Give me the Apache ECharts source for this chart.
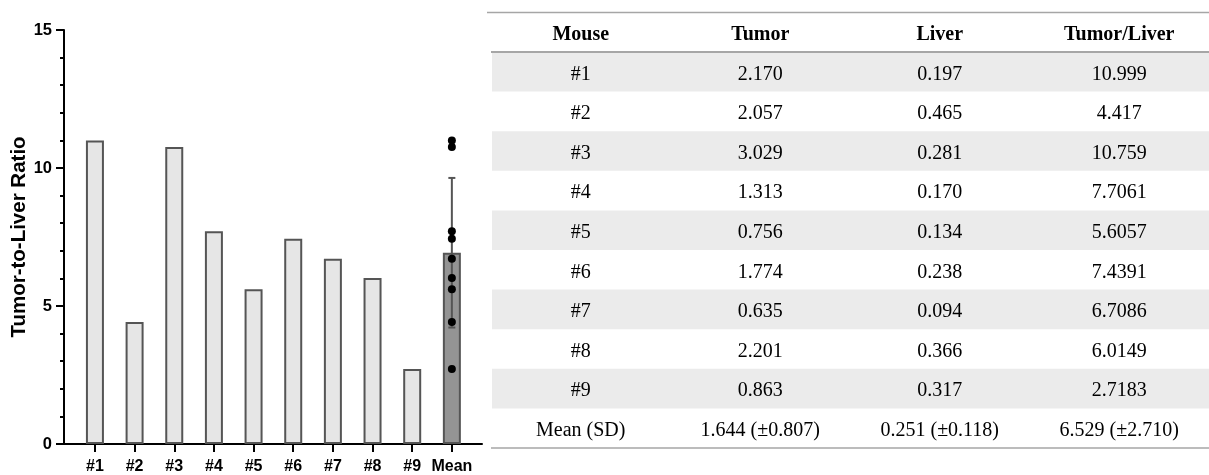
<!DOCTYPE html>
<html><head><meta charset="utf-8">
<script src="https://cdn.jsdelivr.net/npm/echarts@6/dist/echarts.min.js"></script>
<style>html,body{margin:0;padding:0;background:#fff}#c{width:1209px;height:475px}</style>
</head><body><div id="c"></div>
<script>
// ---- chart data ----
const categories = ['#1','#2','#3','#4','#5','#6','#7','#8','#9','Mean'];
const ratios = [10.999, 4.417, 10.759, 7.7061, 5.6057, 7.4391, 6.7086, 6.0149, 2.7183];
const meanBar = 6.93;
const sdBar = 2.71;
const yTicks = [0, 5, 10, 15];
// ---- table data ----
const tableHeader = ['Mouse', 'Tumor', 'Liver', 'Tumor/Liver'];
const tableMouse = ['#1','#2','#3','#4','#5','#6','#7','#8','#9','Mean (SD)'];
const tableTumor = ['2.170','2.057','3.029','1.313','0.756','1.774','0.635','2.201','0.863','1.644 (±0.807)'];
const tableLiver = ['0.197','0.465','0.281','0.170','0.134','0.238','0.094','0.366','0.317','0.251 (±0.118)'];
const tableRatio = ['10.999','4.417','10.759','7.7061','5.6057','7.4391','6.7086','6.0149','2.7183','6.529 (±2.710)'];

const chart = echarts.init(document.getElementById('c'), null, {renderer: 'canvas'});
const catIdx = categories.map((_, i) => i);
const sans = '"Liberation Sans", Arial, sans-serif';

// table graphic layout
const T = {left: 491, right: 1209, top: 12.5, headH: 39.5, rowH: 39.6, textDy: 2.5};
const colW = (T.right - T.left) / tableHeader.length;
const cols = [tableMouse, tableTumor, tableLiver, tableRatio];
const g = [];
const bodyTop = T.top + T.headH;
for (let r = 0; r < tableMouse.length; r++) {
  if (r % 2 === 0) {
    g.push({type: 'rect', shape: {x: T.left + 1, y: bodyTop + r * T.rowH, width: T.right - T.left - 1, height: T.rowH},
      style: {fill: '#ebebeb'}, silent: true});
  }
}
g.push({type: 'line', shape: {x1: T.left - 4, y1: T.top, x2: T.right, y2: T.top}, style: {stroke: '#a6a6a6', lineWidth: 1.5}});
g.push({type: 'line', shape: {x1: T.left, y1: bodyTop, x2: T.right, y2: bodyTop}, style: {stroke: '#a6a6a6', lineWidth: 2}});
const bottomY = bodyTop + tableMouse.length * T.rowH;
g.push({type: 'line', shape: {x1: T.left, y1: bottomY, x2: T.right, y2: bottomY}, style: {stroke: '#a6a6a6', lineWidth: 1.5}});
tableHeader.forEach((h, c) => {
  g.push({type: 'text', style: {text: h, x: T.left + (c + 0.5) * colW, y: T.top + T.headH / 2 + T.textDy,
    font: 'bold 20px "Liberation Serif", "Times New Roman", serif', fill: '#000', textAlign: 'center', textVerticalAlign: 'middle'}});
});
cols.forEach((col, c) => {
  col.forEach((v, r) => {
    g.push({type: 'text', style: {text: v, x: T.left + (c + 0.5) * colW, y: bodyTop + (r + 0.5) * T.rowH + T.textDy,
      font: '20px "Liberation Serif", "Times New Roman", serif', fill: '#000', textAlign: 'center', textVerticalAlign: 'middle'}});
  });
});

const option = {
  animation: false,
  backgroundColor: '#fff',
  grid: {left: 64, top: 30, width: 418, bottom: 28, containLabel: false},
  xAxis: {
    type: 'value', min: -0.78, max: 9.76,
    splitLine: {show: false},
    axisLine: {show: true, onZero: false, lineStyle: {color: '#000', width: 2}},
    axisTick: {show: true, customValues: catIdx, length: 8, lineStyle: {color: '#000', width: 2}},
    axisLabel: {show: true, customValues: catIdx, formatter: v => categories[Math.round(v)],
      color: '#000', fontFamily: sans, fontWeight: 'bold', fontSize: 16, margin: 15}
  },
  yAxis: {
    type: 'value', min: yTicks[0], max: yTicks[yTicks.length - 1], interval: 5,
    name: 'Tumor-to-Liver Ratio', nameLocation: 'middle', nameGap: 30,
    nameTextStyle: {color: '#000', fontFamily: sans, fontWeight: 'bold', fontSize: 20.5},
    splitLine: {show: false},
    axisLine: {show: true, onZero: false, lineStyle: {color: '#000', width: 2}},
    axisTick: {show: true, length: 8, lineStyle: {color: '#000', width: 2}},
    minorTick: {show: true, splitNumber: 5, length: 4, lineStyle: {color: '#000', width: 2}},
    axisLabel: {color: '#000', fontFamily: sans, fontWeight: 'bold', fontSize: 16.5, margin: 12}
  },
  graphic: {elements: g},
  series: [
    {
      type: 'bar', barWidth: 18,
      itemStyle: {color: '#e6e6e6', borderColor: '#555', borderWidth: 2},
      data: ratios.map((v, i) => [i, v]).concat([{value: [9, meanBar], itemStyle: {color: '#949494', borderColor: '#555', borderWidth: 2}}]),
      z: 2
    },
    {
      type: 'custom', z: 3,
      encode: {x: 0, y: [1, 2]},
      data: [[9, meanBar - sdBar, meanBar + sdBar]],
      renderItem: (params, api) => {
        const lo = api.coord([api.value(0), api.value(1)]);
        const hi = api.coord([api.value(0), api.value(2)]);
        const st = {stroke: '#555', lineWidth: 2};
        return {type: 'group', children: [
          {type: 'line', shape: {x1: lo[0], y1: lo[1], x2: hi[0], y2: hi[1]}, style: st},
          {type: 'line', shape: {x1: hi[0] - 3.5, y1: hi[1], x2: hi[0] + 3.5, y2: hi[1]}, style: st},
          {type: 'line', shape: {x1: lo[0] - 3.5, y1: lo[1], x2: lo[0] + 3.5, y2: lo[1]}, style: st}
        ]};
      }
    },
    {
      type: 'scatter', z: 4, symbolSize: 8,
      itemStyle: {color: '#000', opacity: 1},
      data: ratios.map(v => [9, v])
    }
  ]
};
chart.setOption(option);
</script>
</body></html>
